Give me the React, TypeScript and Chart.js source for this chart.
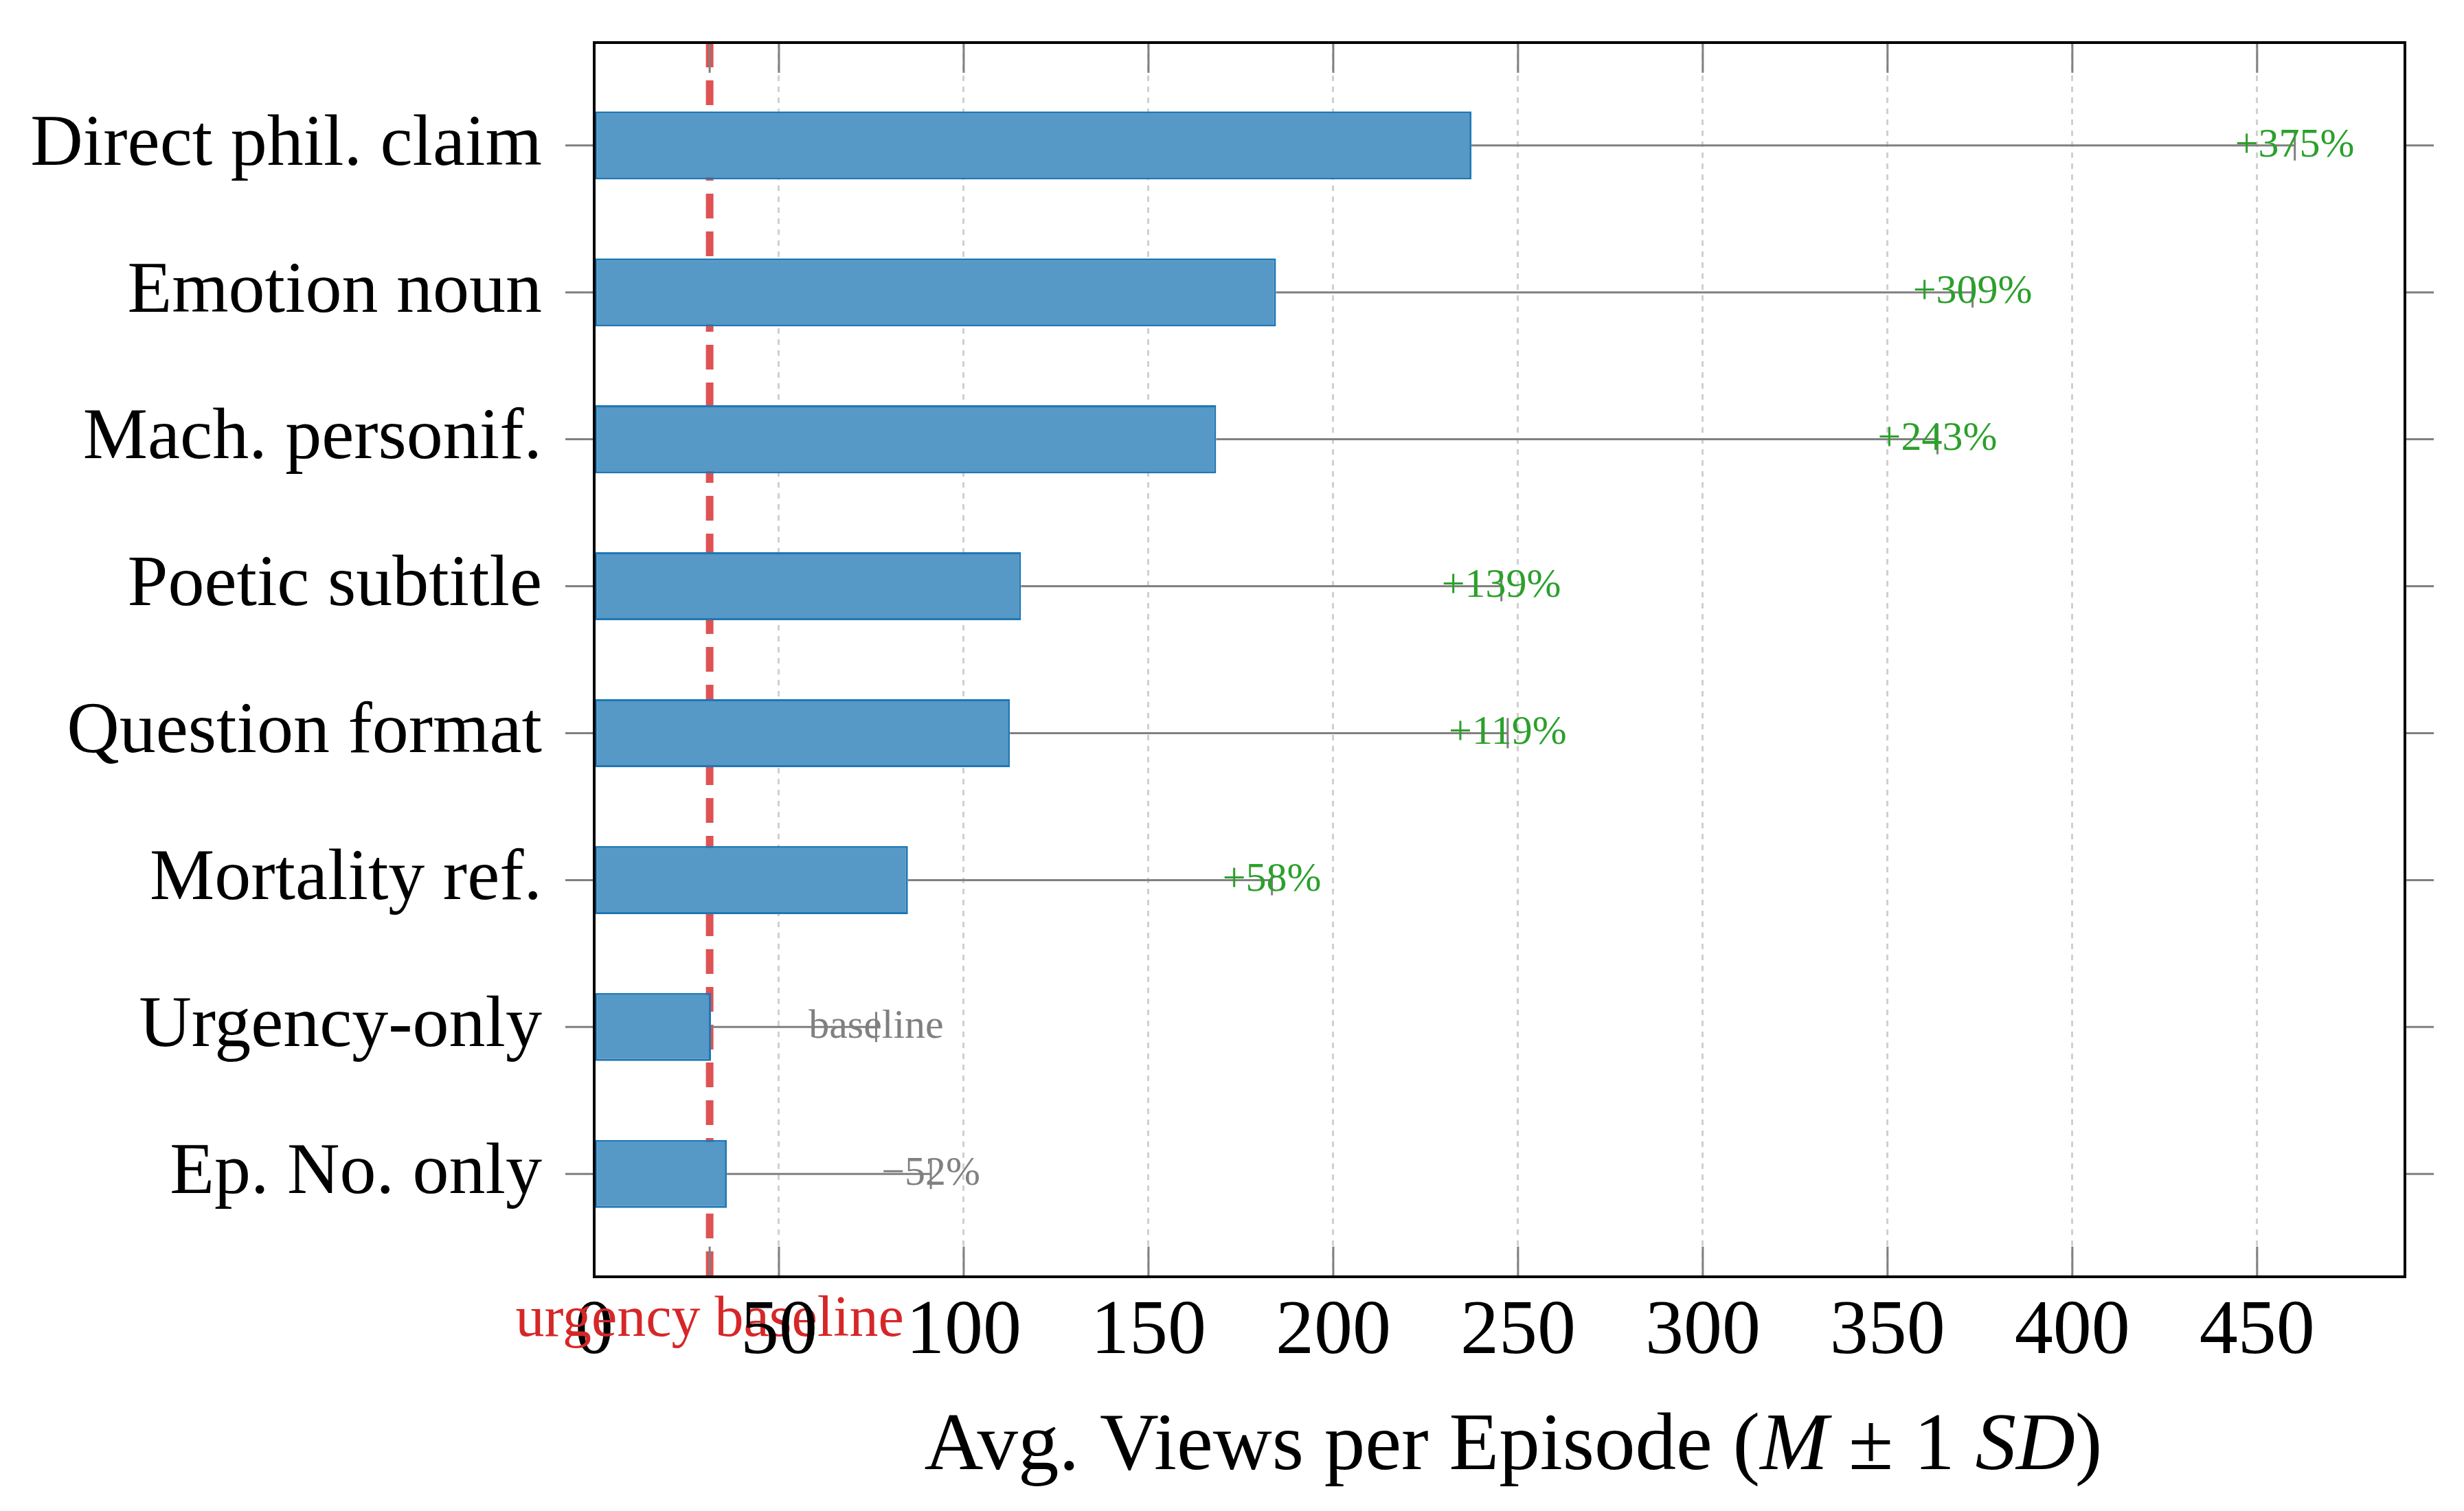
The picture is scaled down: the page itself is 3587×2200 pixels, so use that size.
import { useEffect, useRef } from 'react';
import { Chart, registerables } from 'chart.js';

Chart.register(...registerables);

const categories = [
  'Direct phil. claim',
  'Emotion noun',
  'Mach. personif.',
  'Poetic subtitle',
  'Question format',
  'Mortality ref.',
  'Urgency-only',
  'Ep. No. only',
];
const meanViews = [237.4, 184.5, 168.3, 115.5, 112.5, 84.9, 31.6, 35.9];
const sdViews = [222.8, 188.5, 195.2, 130.0, 134.7, 98.5, 44.7, 55.2];
const changeLabels = ['+375%', '+309%', '+243%', '+139%', '+119%', '+58%', 'baseline', '\u221252%'];
const baselineValue = 31.25;
const baselineLabel = 'urgency baseline';
const xTickValues = [0, 50, 100, 150, 200, 250, 300, 350, 400, 450];
const xMax = 490;

const FONT = '"Liberation Serif", "Times New Roman", Times, serif';

const overlay = {
  id: 'overlay',
  beforeDatasetsDraw(chart: any) {
    const { ctx, chartArea, scales } = chart;
    const x = scales.x.getPixelForValue(baselineValue);
    ctx.save();
    ctx.beginPath();
    ctx.rect(chartArea.left, chartArea.top, chartArea.width, chartArea.height);
    ctx.clip();
    ctx.strokeStyle = 'rgba(214,39,40,0.8)';
    ctx.lineWidth = 11;
    ctx.setLineDash([36, 19]);
    ctx.beginPath();
    ctx.moveTo(x, chartArea.top);
    ctx.lineTo(x, chartArea.bottom);
    ctx.stroke();
    ctx.restore();
  },
  afterDatasetsDraw(chart: any) {
    const { ctx, scales } = chart;
    const meta = chart.getDatasetMeta(0);
    ctx.save();
    meta.data.forEach((bar: any, i: number) => {
      const x0 = scales.x.getPixelForValue(meanViews[i]);
      const x1 = scales.x.getPixelForValue(meanViews[i] + sdViews[i]);
      const y = bar.y;
      ctx.strokeStyle = '#808080';
      ctx.lineWidth = 3;
      ctx.setLineDash([]);
      ctx.beginPath();
      ctx.moveTo(x0, y);
      ctx.lineTo(x1, y);
      ctx.moveTo(x1, y - 22);
      ctx.lineTo(x1, y + 22);
      ctx.stroke();
      const lbl = changeLabels[i];
      ctx.fillStyle = lbl.startsWith('+') ? '#2ca02c' : '#808080';
      ctx.font = `60px ${FONT}`;
      ctx.textAlign = 'center';
      ctx.textBaseline = 'middle';
      ctx.fillText(lbl, x1, y);
    });
    ctx.restore();
  },
  afterDraw(chart: any) {
    const { ctx, chartArea, scales } = chart;
    const { left, right, top, bottom } = chartArea;
    ctx.save();
    ctx.strokeStyle = '#808080';
    ctx.lineWidth = 3;
    ctx.setLineDash([]);
    ctx.beginPath();
    scales.x.ticks.forEach((t: any) => {
      if (t.value === 0) return;
      const x = scales.x.getPixelForValue(t.value);
      ctx.moveTo(x, bottom);
      ctx.lineTo(x, bottom - 44);
      ctx.moveTo(x, top);
      ctx.lineTo(x, top + 44);
    });
    categories.forEach((_, i) => {
      const y = scales.y.getPixelForValue(i);
      ctx.moveTo(left - 42, y);
      ctx.lineTo(left, y);
      ctx.moveTo(right, y);
      ctx.lineTo(right + 42, y);
    });
    ctx.stroke();

    ctx.strokeStyle = '#000';
    ctx.lineWidth = 4;
    ctx.strokeRect(left, top, right - left, bottom - top);

    const segs: [string, boolean][] = [
      ['Avg. Views per Episode (', false],
      ['M', true],
      [' \u00b1 1 ', false],
      ['SD', true],
      [')', false],
    ];
    const fs = 119;
    let total = 0;
    segs.forEach(([s, it]) => {
      ctx.font = `${it ? 'italic ' : ''}${fs}px ${FONT}`;
      total += ctx.measureText(s).width;
    });
    let cx = (left + right) / 2 + 20 - total / 2;
    ctx.fillStyle = '#000';
    ctx.textAlign = 'left';
    ctx.textBaseline = 'alphabetic';
    segs.forEach(([s, it]) => {
      ctx.font = `${it ? 'italic ' : ''}${fs}px ${FONT}`;
      ctx.fillText(s, cx, bottom + 280);
      cx += ctx.measureText(s).width;
    });
    ctx.restore();
  },
};

export default function App() {
  const ref = useRef<HTMLCanvasElement | null>(null);
  useEffect(() => {
    document.body.style.margin = '0';
    if (!ref.current) return;
    Chart.defaults.font.family = FONT;
    const chart = new Chart(ref.current, {
      type: 'bar',
      data: {
        datasets: [
          {
            data: meanViews.map((v, i) => ({ x: v, y: i })),
            backgroundColor: '#5698c6',
            borderColor: '#1f77b4',
            borderWidth: 3,
            borderSkipped: false,
            barPercentage: 0.463,
            categoryPercentage: 1,
          } as any,
        ],
      },
      options: {
        indexAxis: 'y',
        responsive: false,
        animation: false,
        devicePixelRatio: 1,
        layout: { padding: { top: 62, right: 86, left: 0, bottom: 0 } },
        plugins: { legend: { display: false }, tooltip: { enabled: false } },
        scales: {
          x: {
            type: 'linear',
            position: 'bottom',
            min: 0,
            max: xMax,
            afterBuildTicks: (s: any) => {
              const vals = [...xTickValues, baselineValue].sort((a, b) => a - b);
              s.ticks = vals.map((v) => ({ value: v }));
            },
            afterFit: (s: any) => {
              s.height = 341;
              s.paddingLeft = 0;
              s.paddingRight = 0;
            },
            ticks: {
              autoSkip: false,
              maxRotation: 0,
              minRotation: 0,
              padding: 14,
              callback: (v: any) => (v === baselineValue ? baselineLabel : String(v)),
              color: (c: any) => (c.tick && c.tick.value === baselineValue ? '#d62728' : '#000'),
              font: (c: any) => ({
                family: FONT,
                size: c.tick && c.tick.value === baselineValue ? 84 : 112,
              }),
            },
            grid: {
              color: (c: any) =>
                c.tick && (c.tick.value === 0 || c.tick.value === baselineValue)
                  ? 'rgba(0,0,0,0)'
                  : '#d0d0d0',
              lineWidth: 3,
              drawTicks: false,
            },
            border: { display: false, dash: [8, 8] },
          },
          y: {
            type: 'linear',
            min: -0.7,
            max: 7.7,
            reverse: true,
            offset: false,
            afterBuildTicks: (s: any) => {
              s.ticks = categories.map((_, i) => ({ value: i }));
            },
            afterFit: (s: any) => {
              s.width = 865;
              s.paddingTop = 0;
              s.paddingBottom = 0;
            },
            ticks: {
              autoSkip: false,
              padding: 76,
              color: '#000',
              font: { family: FONT, size: 106 },
              callback: (v: any) => categories[v as number] ?? '',
            },
            grid: { display: false, drawTicks: false },
            border: { display: false },
          },
        },
      } as any,
      plugins: [overlay],
    });
    return () => chart.destroy();
  }, []);
  return (
    <div style={{ width: 3587, height: 2200 }}>
      <canvas ref={ref} width={3587} height={2200} style={{ display: 'block' }} />
    </div>
  );
}
